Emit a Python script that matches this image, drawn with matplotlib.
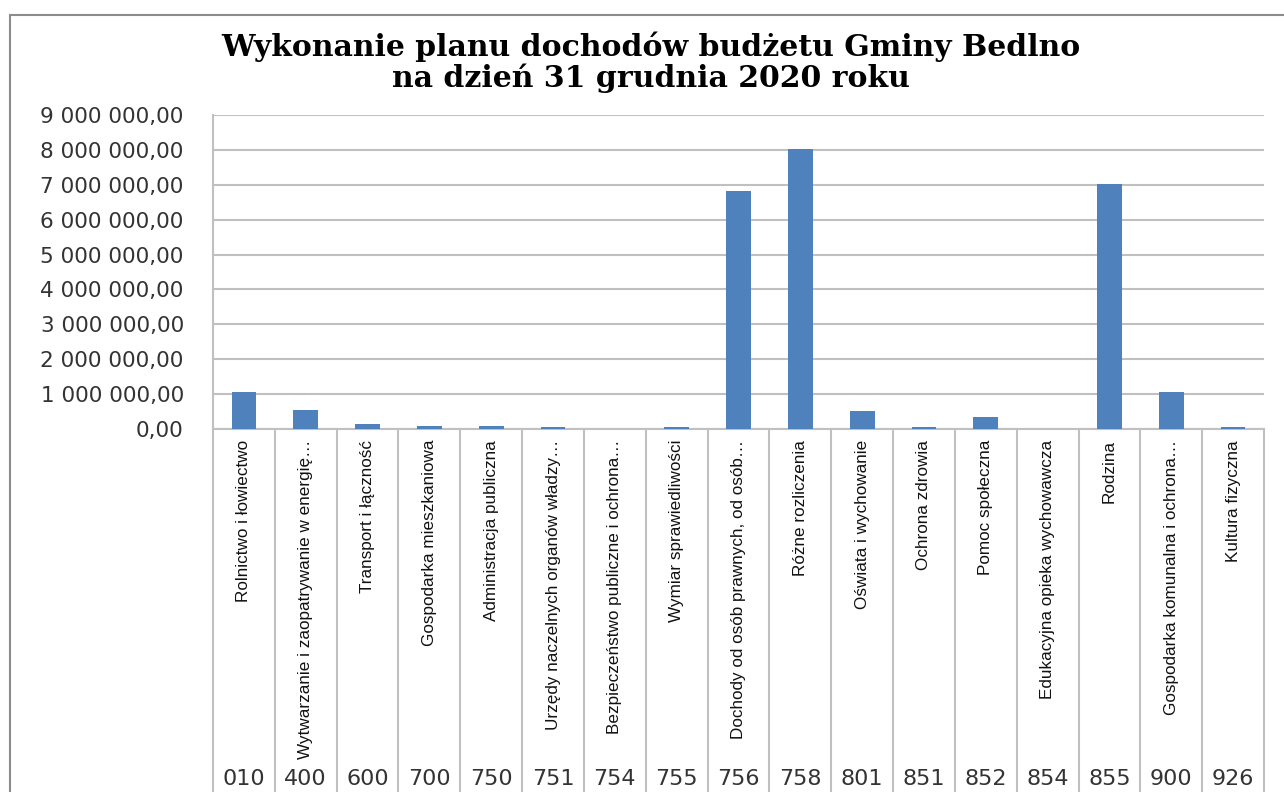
import matplotlib
matplotlib.use("Agg")
import matplotlib.pyplot as plt
import matplotlib.transforms as mtransforms
from matplotlib.patches import Rectangle
from matplotlib.ticker import FuncFormatter

# Dane
codes = ["010", "400", "600", "700", "750", "751", "754", "755", "756",
         "758", "801", "851", "852", "854", "855", "900", "926"]
names = [
    "Rolnictwo i łowiectwo",
    "Wytwarzanie i zaopatrywanie w energię…",
    "Transport i łączność",
    "Gospodarka mieszkaniowa",
    "Administracja publiczna",
    "Urzędy naczelnych organów władzy…",
    "Bezpieczeństwo publiczne i ochrona…",
    "Wymiar sprawiedliwości",
    "Dochody od osób prawnych, od osób…",
    "Różne rozliczenia",
    "Oświata i wychowanie",
    "Ochrona zdrowia",
    "Pomoc społeczna",
    "Edukacyjna opieka wychowawcza",
    "Rodzina",
    "Gospodarka komunalna i ochrona…",
    "Kultura fizyczna",
]
values = [1060000, 550000, 140000, 80000, 80000, 50000, 10000, 50000, 6820000,
          8030000, 520000, 50000, 340000, 0, 7020000, 1060000, 50000]

fig = plt.figure(figsize=(12.84, 7.92), dpi=100)
fig.patches.append(Rectangle((10 / 1284, -0.1), 1.2, 1 - 15 / 792 + 0.1,
                             transform=fig.transFigure, fill=False,
                             edgecolor="#8c8c8c", linewidth=1.5))

ax = fig.add_axes([213 / 1284, 1 - 429 / 792, 1051 / 1284, 314 / 792])
x = list(range(len(codes)))
ax.bar(x, values, width=0.4, color="#4f81bd", zorder=3)

ax.set_xlim(-0.5, len(codes) - 0.5)
ax.set_ylim(0, 9000000)
ax.set_yticks(range(0, 9000001, 1000000))
ax.yaxis.set_major_formatter(FuncFormatter(
    lambda v, p: f"{v:,.2f}".replace(",", " ").replace(".", ",")))
ax.tick_params(axis="y", length=0, pad=21, labelsize=15.5, labelcolor="#333333")
ax.set_xticks([])
ax.grid(axis="y", color="#c0c0c0", linewidth=1.5, zorder=0)
for s in ["top", "right"]:
    ax.spines[s].set_visible(False)
ax.spines["left"].set_color("#c0c0c0")
ax.spines["bottom"].set_color("#c0c0c0")
ax.spines["left"].set_linewidth(1.5)
ax.spines["bottom"].set_linewidth(1.5)

# Oś kategorii dwupoziomowa
trans = mtransforms.blended_transform_factory(ax.transData, ax.transAxes)
for i in range(len(codes) + 1):
    ax.plot([i - 0.5, i - 0.5], [0, -1.3], transform=trans, color="#c0c0c0",
            linewidth=1.5, clip_on=False)
for i, (c, n) in enumerate(zip(codes, names)):
    ax.text(i, -0.035, n, transform=trans, rotation=90, ha="center", va="top",
            fontsize=12.3, family=["Liberation Sans Narrow", "Liberation Sans"],
            color="#111111")
    ax.text(i, -1.115, c, transform=trans, ha="center", va="center",
            fontsize=16, color="#333333")

fig.text(651 / 1284, 1 - 62 / 792,
         "Wykonanie planu dochodów budżetu Gminy Bedlno\nna dzień 31 grudnia 2020 roku",
         ha="center", va="center", fontsize=21.5, fontweight="bold",
         family="DejaVu Serif", linespacing=1.05)

fig.savefig("out.png", dpi=100)
